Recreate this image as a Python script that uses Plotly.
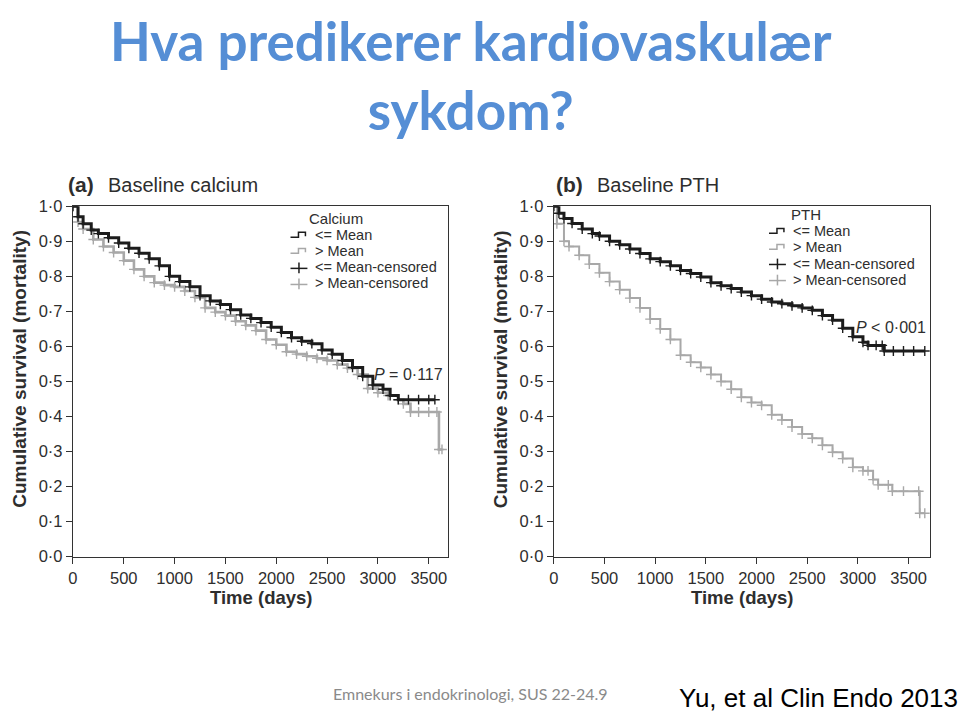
import plotly.graph_objects as go

# ---------------- data ----------------
ca_low_t = [0, 50, 100, 180, 250, 350, 450, 550, 650, 750, 850, 950, 1050, 1150, 1250, 1350,
            1450, 1550, 1650, 1750, 1850, 1950, 2050, 2150, 2250, 2350, 2450, 2550, 2650, 2750,
            2850, 2950, 3050, 3120, 3200, 3300, 3400, 3500, 3560]
ca_low_s = [1.0, 0.97, 0.95, 0.932, 0.922, 0.91, 0.895, 0.88, 0.866, 0.85, 0.83, 0.80, 0.785,
            0.77, 0.745, 0.73, 0.72, 0.705, 0.69, 0.68, 0.668, 0.655, 0.64, 0.625, 0.615, 0.608,
            0.59, 0.578, 0.56, 0.54, 0.515, 0.49, 0.478, 0.46, 0.448, 0.448, 0.448, 0.448, 0.448]

ca_high_t = [0, 50, 100, 200, 300, 400, 500, 600, 700, 800, 900, 1000, 1100, 1200, 1300, 1400,
             1500, 1600, 1700, 1800, 1900, 2000, 2100, 2200, 2300, 2400, 2500, 2600, 2700, 2800,
             2900, 3000, 3100, 3200, 3250, 3320, 3400, 3500, 3580, 3600, 3630]
ca_high_s = [1.0, 0.955, 0.935, 0.905, 0.885, 0.868, 0.845, 0.82, 0.80, 0.782, 0.775, 0.77,
             0.758, 0.74, 0.71, 0.698, 0.688, 0.672, 0.66, 0.645, 0.62, 0.605, 0.585, 0.578,
             0.572, 0.566, 0.56, 0.548, 0.538, 0.52, 0.48, 0.468, 0.46, 0.448, 0.436, 0.413,
             0.413, 0.413, 0.413, 0.306, 0.306]

pth_low_t = [0, 50, 100, 180, 280, 380, 450, 550, 650, 750, 850, 950, 1050, 1150, 1250, 1350,
             1450, 1550, 1650, 1750, 1850, 1950, 2050, 2150, 2250, 2350, 2450, 2550, 2650, 2750,
             2850, 2950, 3050, 3100, 3180, 3240, 3260, 3350, 3450, 3550, 3660]
pth_low_s = [1.0, 0.98, 0.965, 0.951, 0.935, 0.922, 0.915, 0.90, 0.89, 0.878, 0.865, 0.85,
             0.842, 0.83, 0.817, 0.808, 0.798, 0.782, 0.773, 0.765, 0.755, 0.745, 0.735, 0.727,
             0.722, 0.716, 0.71, 0.703, 0.688, 0.675, 0.652, 0.628, 0.612, 0.603, 0.603, 0.603,
             0.587, 0.587, 0.587, 0.587, 0.587]

pth_high_t = [0, 30, 100, 150, 250, 350, 450, 550, 650, 750, 850, 950, 1050, 1150, 1250, 1350,
              1450, 1550, 1650, 1750, 1850, 1950, 2050, 2150, 2250, 2350, 2450, 2550, 2650, 2750,
              2850, 2950, 3050, 3100, 3150, 3200, 3300, 3340, 3450, 3600, 3610, 3660]
pth_high_s = [1.0, 0.95, 0.90, 0.885, 0.86, 0.835, 0.81, 0.785, 0.762, 0.738, 0.71, 0.678,
              0.65, 0.62, 0.575, 0.555, 0.54, 0.52, 0.50, 0.478, 0.455, 0.44, 0.432, 0.405,
              0.39, 0.37, 0.35, 0.338, 0.318, 0.298, 0.28, 0.255, 0.245, 0.245, 0.22, 0.205,
              0.205, 0.187, 0.187, 0.187, 0.124, 0.124]

x_ticks = [0, 500, 1000, 1500, 2000, 2500, 3000, 3500]
y_ticks = [0.0, 0.1, 0.2, 0.3, 0.4, 0.5, 0.6, 0.7, 0.8, 0.9, 1.0]
y_tick_labels = ["0·0", "0·1", "0·2", "0·3", "0·4", "0·5", "0·6", "0·7", "0·8", "0·9", "1·0"]
legend_labels = ["<= Mean", "> Mean", "<= Mean-censored", "> Mean-censored"]

# ---------------- styling ----------------
W, H = 960, 723
BLACK = "#1c1c1c"
GREY = "#a8a8a8"
TXT = "#2e2e2e"
FONT = "Liberation Sans, Arial, sans-serif"
TFONT = "Lato, Open Sans, sans-serif"


def px(x):
    return x / W


def py(y):
    return 1 - y / H


fig = go.Figure()


def add_curve(t, s, color, width, xa, ya):
    fig.add_trace(go.Scatter(
        x=t, y=s, mode="lines+markers",
        line=dict(shape="hv", color=color, width=width),
        marker=dict(symbol="cross-thin", size=7, color=color, line=dict(color=color, width=1.4)),
        xaxis=xa, yaxis=ya, showlegend=False, hoverinfo="skip", cliponaxis=True))


add_curve(ca_high_t, ca_high_s, GREY, 2.6, "x", "y")
add_curve(ca_low_t, ca_low_s, BLACK, 3.0, "x", "y")
add_curve(pth_high_t, pth_high_s, GREY, 2.0, "x2", "y2")
add_curve(pth_low_t, pth_low_s, BLACK, 3.0, "x2", "y2")

ydom = [py(561.7), py(202.3)]
axis_common = dict(
    showline=True, linecolor="#333333", linewidth=1.3, mirror=True,
    ticks="outside", ticklen=6, tickwidth=1.2, tickcolor="#333333",
    showgrid=False, zeroline=False,
    tickfont=dict(family=FONT, size=16.5, color=TXT),
)
fig.update_layout(
    width=W, height=H, margin=dict(l=0, r=0, t=0, b=0),
    paper_bgcolor="white", plot_bgcolor="white",
    xaxis=dict(domain=[px(68.3), px(445)], range=[0, 3686], tickvals=x_ticks, anchor="y", **axis_common),
    yaxis=dict(domain=ydom, range=[0, 1], tickvals=y_ticks, ticktext=y_tick_labels, anchor="x", **axis_common),
    xaxis2=dict(domain=[px(551.7), px(930)], range=[0, 3713], tickvals=x_ticks, anchor="y2", **axis_common),
    yaxis2=dict(domain=ydom, range=[0, 1], tickvals=y_ticks, ticktext=y_tick_labels, anchor="x2", **axis_common),
)

ann = []
shapes = []


def text(x, y, s, size, color=TXT, family=FONT, xanchor="center", angle=0, bold=False, yanchor="middle"):
    if bold:
        s = "<b>" + s + "</b>"
    ann.append(dict(x=px(x), y=py(y), xref="paper", yref="paper", text=s, showarrow=False,
                    xanchor=xanchor, yanchor=yanchor, textangle=angle, align="center",
                    font=dict(family=family, size=size, color=color)))


# Slide title: one two-line text block, top-anchored so it stays inside the page
TITLE_BLUE = "#558ED5"
text(468, -2, "Hva predikerer kardiovaskulær<br>sykdom?", 53, TITLE_BLUE, TFONT, bold=True, yanchor="top")

# Panel titles
text(61, 180, "(a)", 21, TXT, xanchor="left", bold=True)
text(102, 180, "Baseline calcium", 20, TXT, xanchor="left")
text(552, 180, "(b)", 21, TXT, xanchor="left", bold=True)
text(593, 180, "Baseline PTH", 20, TXT, xanchor="left")

# Axis titles
for xc in (15, 498):
    text(xc, 369, "Cumulative survival (mortality)", 19, TXT, angle=-90, bold=True)
text(257, 604, "Time (days)", 18.5, TXT, bold=True)
text(741, 604, "Time (days)", 18.5, TXT, bold=True)

# P values
text(442, 375, "<i>P</i> = 0·117", 16, TXT, xanchor="right")
text(928, 327, "<i>P</i> < 0·001", 16, TXT, xanchor="right")


# Legends (drawn as text + icons)
def legend(title, title_x, title_y, icon_x0, text_x, rows_y):
    text(title_x, title_y, title, 15, TXT)
    colors = [BLACK, GREY, BLACK, GREY]
    for i, (lab, yy) in enumerate(zip(legend_labels, rows_y)):
        text(text_x, yy, lab, 14.5, TXT, xanchor="left")
        c = colors[i]
        x0, x1 = icon_x0, icon_x0 + 17
        if i < 2:
            xm, xr = x0 + 8, x0 + 15
            path = (f"M {px(x0)},{py(yy + 2)} L {px(xm)},{py(yy + 2)} L {px(xm)},{py(yy - 3)} "
                    f"L {px(xr)},{py(yy - 3)} L {px(xr)},{py(yy + 1)}")
            shapes.append(dict(type="path", xref="paper", yref="paper", path=path,
                               line=dict(color=c, width=1.5)))
        else:
            shapes.append(dict(type="line", xref="paper", yref="paper", x0=px(x0), x1=px(x1),
                               y0=py(yy + 1), y1=py(yy + 1), line=dict(color=c, width=1.5)))
            shapes.append(dict(type="line", xref="paper", yref="paper", x0=px(x0 + 8.5), x1=px(x0 + 8.5),
                               y0=py(yy - 5), y1=py(yy + 6), line=dict(color=c, width=1.5)))


legend("Calcium", 333, 215, 287, 310, [232, 248.5, 265, 281.5])
legend("PTH", 805, 211, 768, 790, [228, 244.5, 261, 277.5])

# Footer
text(468, 702, "Emnekurs i endokrinologi, SUS 22-24.9", 16, "#8a8a8a", "Lato, Open Sans, sans-serif")
text(960, 707, "Yu, et al Clin Endo 2013", 26, "#000000", xanchor="right")

fig.update_layout(annotations=ann, shapes=shapes)
fig.write_html("out.html")
